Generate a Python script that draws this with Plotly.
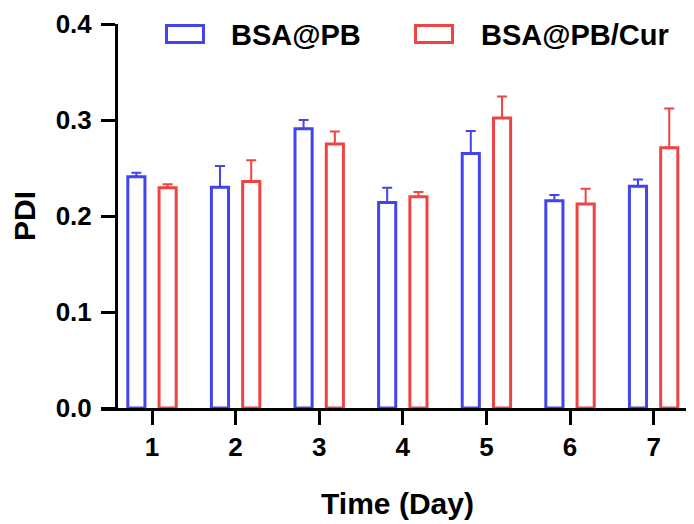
import plotly.graph_objects as go

days = [1, 2, 3, 4, 5, 6, 7]
tick_labels = ["1", "2", "3", "4", "5", "6", "7"]
series_names = ["BSA@PB", "BSA@PB/Cur"]
bsa_pb = [0.241, 0.230, 0.291, 0.214, 0.265, 0.216, 0.231]
bsa_pb_err = [0.004, 0.022, 0.009, 0.0155, 0.0236, 0.006, 0.007]
bsa_pb_cur = [0.2295, 0.236, 0.275, 0.220, 0.302, 0.2125, 0.271]
bsa_pb_cur_err = [0.0035, 0.022, 0.013, 0.005, 0.0226, 0.016, 0.041]

BLUE = "rgb(68,68,238)"
RED = "rgb(238,68,68)"
FONT = "Liberation Sans, Arial, sans-serif"

fig = go.Figure()
for name, vals, errs, col in [
    (series_names[0], bsa_pb, bsa_pb_err, BLUE),
    (series_names[1], bsa_pb_cur, bsa_pb_cur_err, RED),
]:
    fig.add_trace(go.Bar(
        x=days, y=vals, name=name,
        marker=dict(color="rgba(255,255,255,0)", line=dict(color=col, width=3)),
        error_y=dict(type="data", array=errs, arrayminus=[0] * len(errs),
                     symmetric=False, color=col, thickness=2, width=5),
        showlegend=False,
    ))

# page body has an 8px margin; compensate so the plot lands where the reference has it
OFF = 8
W, H = 694 - OFF, 524 - OFF
L, R, T, B = 101 - OFF, 0, 24 - OFF, 116
pw, ph = W - L - R, H - T - B

def px(xp):  # screen px -> paper
    return (xp - OFF - L) / pw

def py(yp):
    return (H - B - (yp - OFF)) / ph

# manual legend (rectangular keys like the reference)
for i, (name, col) in enumerate(zip(series_names, [BLUE, RED])):
    x0 = [166.5, 415.5][i]
    fig.add_shape(type="rect", xref="paper", yref="paper",
                  x0=px(x0), x1=px(x0 + 37), y0=py(42.5), y1=py(25.5),
                  line=dict(color=col, width=3), fillcolor="rgba(0,0,0,0)")
    fig.add_annotation(xref="paper", yref="paper", x=px([229, 479][i]), y=py(35),
                       text=name, showarrow=False, xanchor="left", yanchor="middle",
                       font=dict(family=FONT, size=29, color="black", weight="bold"))

fig.update_layout(
    width=W, height=H,
    margin=dict(l=L, r=R, t=T, b=B, pad=0, autoexpand=False),
    paper_bgcolor="white", plot_bgcolor="white",
    barmode="group", bargap=0.252, bargroupgap=0.452,
    font=dict(family=FONT, color="black"),
    xaxis=dict(
        range=[0.39, 7.483], tickmode="array", tickvals=days, ticktext=tick_labels,
        automargin=False,
        showline=True, linecolor="black", linewidth=3, showgrid=False, zeroline=False,
        ticks="outside", ticklen=14, tickwidth=3, tickcolor="black",
        tickfont=dict(family=FONT, size=26, color="black", weight="bold"),
        ticklabelstandoff=0,
        title=dict(text="Time (Day)", standoff=32,
                   font=dict(family=FONT, size=30, color="black", weight="bold")),
    ),
    yaxis=dict(
        range=[0, 0.4], tickmode="array", tickvals=[0, 0.1, 0.2, 0.3, 0.4],
        ticktext=["0.0", "0.1", "0.2", "0.3", "0.4"],
        anchor="free", position=15 / pw, automargin=False,
        showline=True, linecolor="black", linewidth=3, showgrid=False, zeroline=False,
        ticks="outside", ticklen=14, tickwidth=3, tickcolor="black",
        tickfont=dict(family=FONT, size=26, color="black", weight="bold"),
        ticklabelstandoff=4,
        title=dict(text="PDI", standoff=14,
                   font=dict(family=FONT, size=30, color="black", weight="bold")),
    ),
)

fig.write_html("out.html")
